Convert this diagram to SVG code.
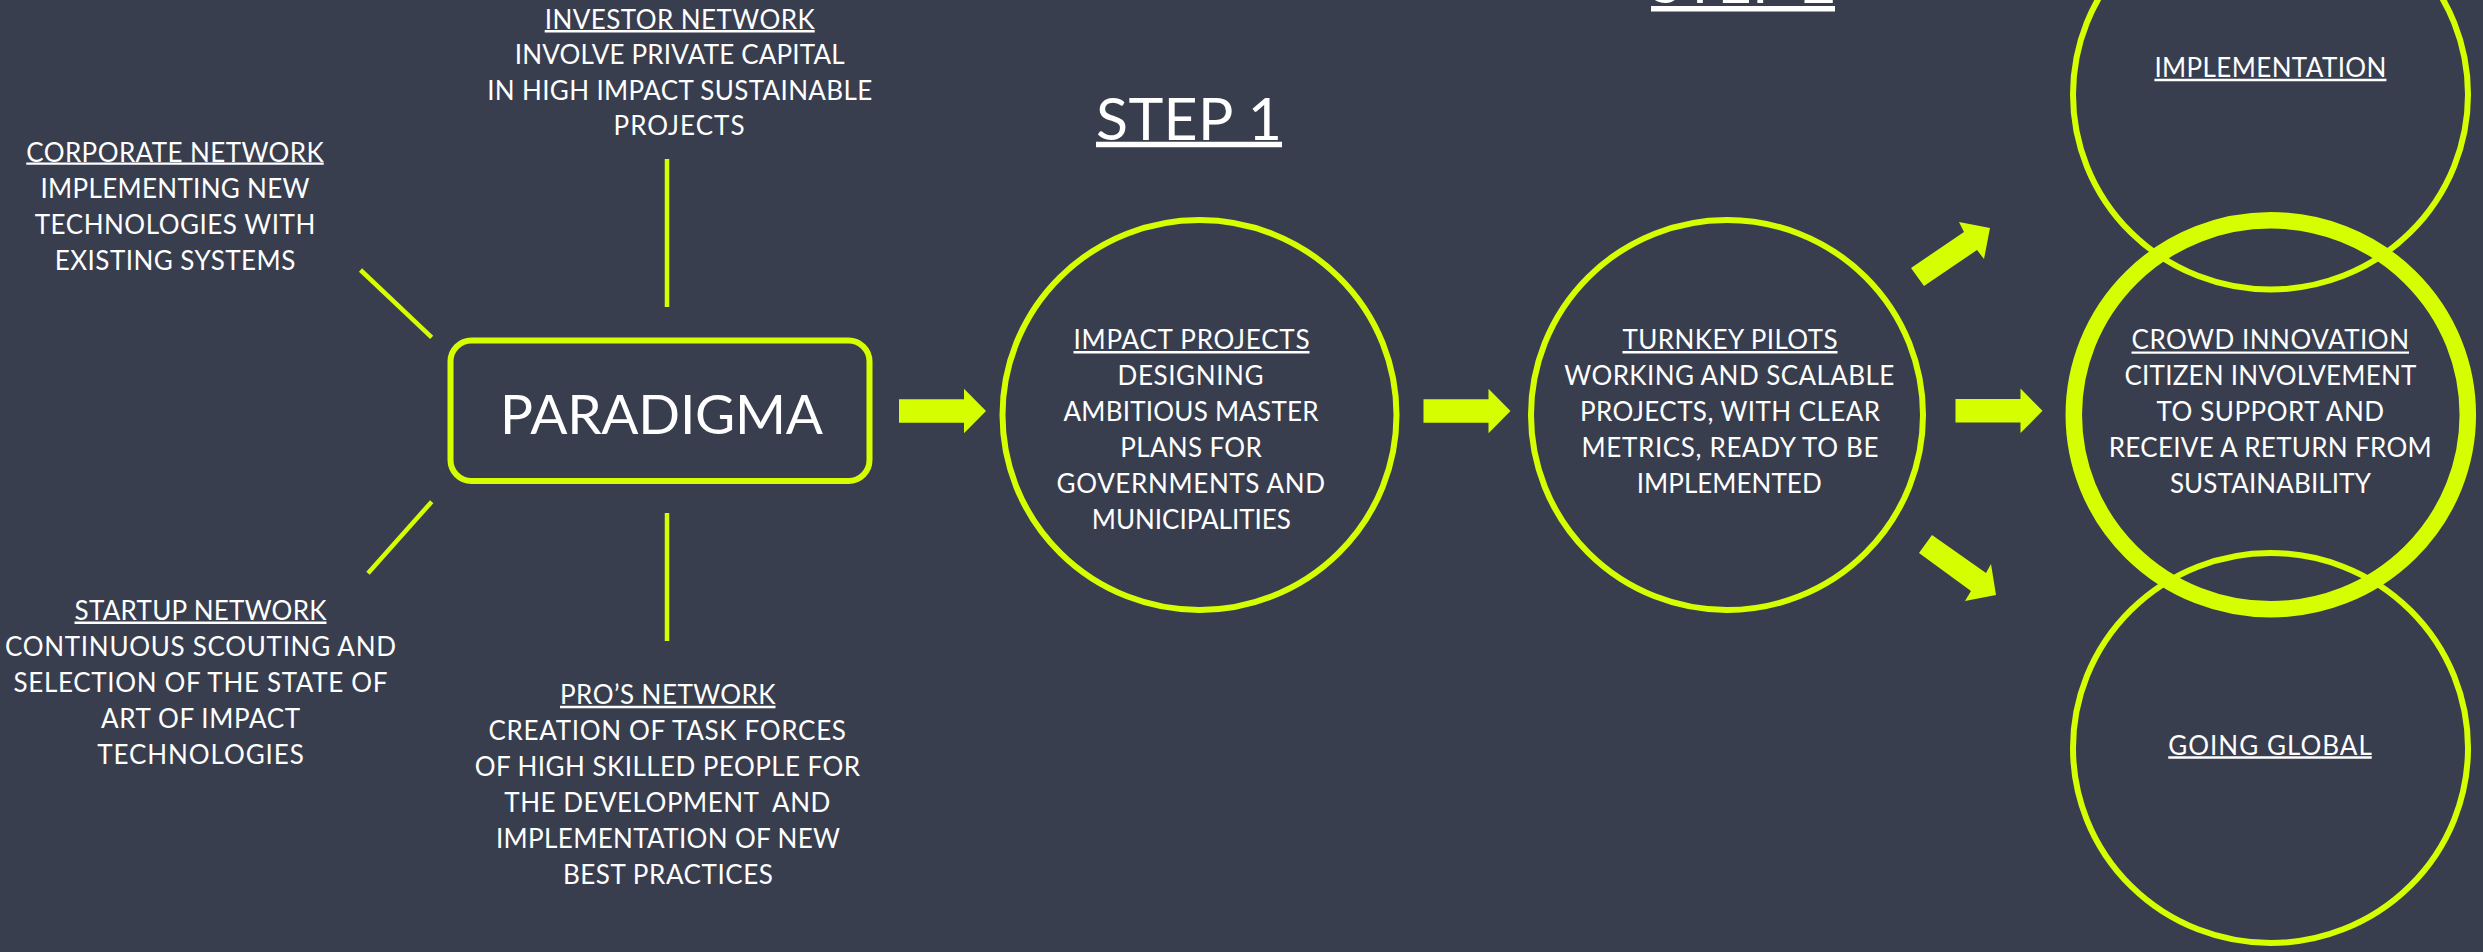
<svg xmlns="http://www.w3.org/2000/svg" width="2483" height="952" viewBox="0 0 2483 952">
<style>
.t{font-family:Lato,"Open Sans","Liberation Sans",sans-serif;font-size:26px;fill:#ffffff;text-anchor:middle}
.big{font-size:55px}
.step{font-size:59px}
.ul{stroke:#ffffff;stroke-width:2.4}
.ulb{stroke:#ffffff;stroke-width:5.5}
.ring{fill:none;stroke:#d5ff00;stroke-width:6}
.thick{stroke-width:16.5}
.conn{stroke:#d5ff00;stroke-width:4.5;fill:none}
.arrow{fill:#d5ff00}
</style>
<defs>
<path id="barrow" d="M0,-11.7 H65 V-22.2 L87,0 L65,22.2 V11.7 H0 Z"/>
</defs>
<rect x="0" y="0" width="2483" height="952" fill="#393e4f"/>

<g id="connectors">
<line class="conn" x1="667" y1="159" x2="667" y2="307"/>
<line class="conn" x1="360.5" y1="270" x2="431.7" y2="337.3"/>
<line class="conn" x1="431.7" y1="501.7" x2="368" y2="573.3"/>
<line class="conn" x1="667" y1="513" x2="667" y2="641"/>
<use href="#barrow" class="arrow" x="899" y="411"/>
<use href="#barrow" class="arrow" x="1423.5" y="411"/>
<use href="#barrow" class="arrow" x="1955.5" y="410.8"/>
<polygon class="arrow" points="1911,268 1964,232 1959,222 1990,228 1984,259 1977,250 1924,286"/>
<polygon class="arrow" points="1932,535 1986,573 1991,564 1996,595 1965,601 1971,591 1919,553"/>
</g>

<g id="paradigma">
<rect x="450.5" y="340.5" width="419" height="140.5" rx="21" class="ring"/>
<text class="t big" x="661.6" y="434.3" textLength="323">PARADIGMA</text>
</g>

<g id="investor-network">
<text class="t" x="679.7" y="28.5" textLength="270">INVESTOR NETWORK</text>
<line class="ul" x1="544.7" y1="31.3" x2="814.7" y2="31.3"/>
<text class="t" x="679.7" y="63.5" textLength="330">INVOLVE PRIVATE CAPITAL</text>
<text class="t" x="679.7" y="99.5" textLength="385">IN HIGH IMPACT SUSTAINABLE</text>
<text class="t" x="679" y="135.3" textLength="131">PROJECTS</text>
</g>

<g id="corporate-network">
<text class="t" x="175" y="161.5" textLength="297.5">CORPORATE NETWORK</text>
<line class="ul" x1="26.25" y1="163.6" x2="323.75" y2="163.6"/>
<text class="t" x="175" y="197.5" textLength="269">IMPLEMENTING NEW</text>
<text class="t" x="175" y="233.5" textLength="280.5">TECHNOLOGIES WITH</text>
<text class="t" x="175" y="269.5" textLength="240.5">EXISTING SYSTEMS</text>
</g>

<g id="startup-network">
<text class="t" x="200.5" y="620.3" textLength="252">STARTUP NETWORK</text>
<line class="ul" x1="74.5" y1="622.8" x2="326.5" y2="622.8"/>
<text class="t" x="200.5" y="656" textLength="391">CONTINUOUS SCOUTING AND</text>
<text class="t" x="200.5" y="692" textLength="374">SELECTION OF THE STATE OF</text>
<text class="t" x="200.5" y="728" textLength="199">ART OF IMPACT</text>
<text class="t" x="200.5" y="763.7" textLength="206.5">TECHNOLOGIES</text>
</g>

<g id="pros-network">
<text class="t" x="667.8" y="704" textLength="215.5">PRO’S NETWORK</text>
<line class="ul" x1="560" y1="707" x2="775.5" y2="707"/>
<text class="t" x="667.2" y="739.5" textLength="357.5">CREATION OF TASK FORCES</text>
<text class="t" x="667.4" y="775.5" textLength="385.5">OF HIGH SKILLED PEOPLE FOR</text>
<text class="t" x="667.3" y="811.5" textLength="326" xml:space="preserve">THE DEVELOPMENT  AND</text>
<text class="t" x="668" y="847.5" textLength="344">IMPLEMENTATION OF NEW</text>
<text class="t" x="667.9" y="883.5" textLength="210">BEST PRACTICES</text>
</g>

<g id="step-1">
<text class="t step" x="1189" y="139.6" textLength="186">STEP 1</text>
<line class="ulb" x1="1096" y1="144.4" x2="1282" y2="144.4"/>
</g>

<g id="step-2">
<text class="t step" x="1743" y="3" textLength="186">STEP 2</text>
<line class="ulb" x1="1651" y1="8.8" x2="1835" y2="8.8"/>
</g>

<g id="impact-projects">
<ellipse class="ring" cx="1199.5" cy="415" rx="197" ry="195"/>
<text class="t" x="1191.5" y="349" textLength="236">IMPACT PROJECTS</text>
<line class="ul" x1="1073.5" y1="352.3" x2="1309.5" y2="352.3"/>
<text class="t" x="1190.5" y="385" textLength="146">DESIGNING</text>
<text class="t" x="1191" y="421" textLength="255">AMBITIOUS MASTER</text>
<text class="t" x="1191" y="457" textLength="141.5">PLANS FOR</text>
<text class="t" x="1190.8" y="493" textLength="268.5">GOVERNMENTS AND</text>
<text class="t" x="1191.3" y="529" textLength="199">MUNICIPALITIES</text>
</g>

<g id="turnkey-pilots">
<ellipse class="ring" cx="1727" cy="415" rx="196" ry="195"/>
<text class="t" x="1730" y="349" textLength="215">TURNKEY PILOTS</text>
<line class="ul" x1="1622.5" y1="352.3" x2="1837.5" y2="352.3"/>
<text class="t" x="1729.3" y="385" textLength="330">WORKING AND SCALABLE</text>
<text class="t" x="1730" y="421" textLength="300">PROJECTS, WITH CLEAR</text>
<text class="t" x="1730" y="457" textLength="297">METRICS, READY TO BE</text>
<text class="t" x="1729.2" y="493" textLength="185">IMPLEMENTED</text>
</g>

<g id="implementation">
<ellipse class="ring" cx="2270.5" cy="94.5" rx="197.5" ry="195"/>
<text class="t" x="2270.4" y="77" textLength="232">IMPLEMENTATION</text>
<line class="ul" x1="2154.4" y1="80" x2="2386.4" y2="80"/>
</g>

<g id="going-global">
<ellipse class="ring" cx="2270.5" cy="748" rx="197.5" ry="195"/>
<text class="t" x="2270" y="754.8" textLength="203.5">GOING GLOBAL</text>
<line class="ul" x1="2168.25" y1="757.5" x2="2371.75" y2="757.5"/>
</g>

<g id="crowd-innovation">
<ellipse class="ring thick" cx="2270.8" cy="414.8" rx="197" ry="194.5"/>
<text class="t" x="2270.3" y="349.3" textLength="277.5">CROWD INNOVATION</text>
<line class="ul" x1="2131.5" y1="352.6" x2="2409" y2="352.6"/>
<text class="t" x="2270.4" y="385" textLength="292">CITIZEN INVOLVEMENT</text>
<text class="t" x="2270.3" y="421" textLength="227.5">TO SUPPORT AND</text>
<text class="t" x="2270.2" y="457" textLength="323">RECEIVE A RETURN FROM</text>
<text class="t" x="2270.4" y="493" textLength="201">SUSTAINABILITY</text>
</g>
</svg>
